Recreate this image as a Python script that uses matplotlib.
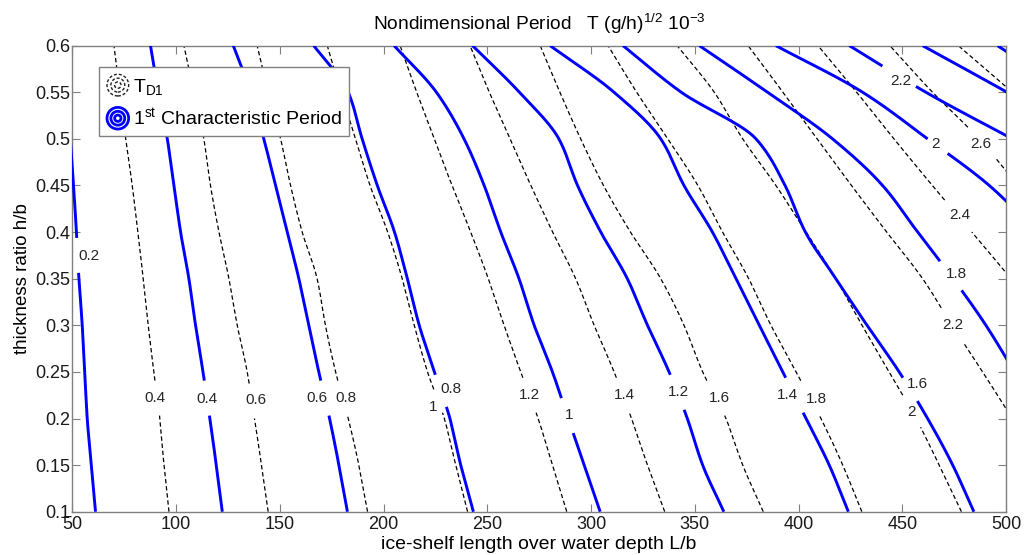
import numpy as np
import matplotlib.pyplot as plt
from matplotlib.legend_handler import HandlerBase
from matplotlib.patches import Circle

plt.rcParams['font.family'] = 'Liberation Sans'
plt.rcParams['mathtext.fontset'] = 'custom'
plt.rcParams['mathtext.rm'] = 'Liberation Sans'
plt.rcParams['mathtext.it'] = 'Liberation Sans:italic'

nan = np.nan

# thickness ratio h/b at which each contour is sampled
thickness = [0.1, 0.15, 0.2, 0.25, 0.3, 0.35, 0.4, 0.45, 0.5, 0.55, 0.6]

# T_D1 contours (dashed): L/b where each level crosses the thickness values above
td1_04 = [96.6, 94.2, 92.2, 89.3, 86.6, 84.2, 81.6, 78.9, 75.7, 72.9, 70.1]
td1_06 = [144.4, 141.2, 137.8, 134.3, 129.5, 125.5, 120.7, 116.6, 113.4, 108.6, 103.8]
td1_08 = [192.3, 188.1, 183.0, 176.9, 172.0, 168.0, 160.8, 155.2, 150.4, 144.5, 139.1]
td1_10 = [240.5, 234.8, 229.3, 221.2, 214.8, 209.0, 202.0, 193.5, 186.5, 179.5, 172.9]
td1_12 = [288.3, 281.4, 274.5, 266.1, 258.1, 250.5, 242.0, 233.0, 224.5, 216.0, 208.0]
td1_14 = [335.5, 327.2, 319.5, 311.1, 301.5, 292.6, 281.5, 271.0, 261.0, 251.0, 241.7]
td1_16 = [383.0, 373.1, 365.0, 353.8, 344.8, 333.6, 319.0, 306.0, 295.0, 285.0, 275.5]
td1_18 = [430.5, 421.3, 410.8, 398.8, 386.7, 376.0, 363.4, 351.5, 337.0, 322.0, 308.2]
td1_20 = [478.5, 467.8, 456.6, 443.6, 430.6, 418.0, 403.6, 389.1, 373.1, 359.4, 341.5]
td1_22 = [nan, 517.0, 503.0, 488.7, 474.0, 459.8, 442.5, 425.5, 409.0, 392.5, 375.7]
td1_24 = [nan, nan, nan, 540.0, 521.0, 502.4, 483.5, 464.5, 446.0, 428.0, 409.4]
td1_26 = [nan, nan, nan, nan, nan, nan, 527.0, 506.0, 487.0, 464.6, 444.0]
td1_28 = [nan, nan, nan, nan, nan, nan, nan, nan, 528.0, 503.0, 477.0]

td1_levels = [0.4, 0.6, 0.8, 1, 1.2, 1.4, 1.6, 1.8, 2, 2.2, 2.4, 2.6, 2.8]
td1_lines = [td1_04, td1_06, td1_08, td1_10, td1_12, td1_14, td1_16,
             td1_18, td1_20, td1_22, td1_24, td1_26, td1_28]
# where each level carries its inline label (nan = unlabelled)
td1_label_L = [90.0, 138.3, 182.0, 224.0, 270.2, 315.9, 361.8,
               408.4, 454.2, 474.3, 477.5, 487.9, nan]
td1_label_h = [0.222, 0.220, 0.222, 0.212, 0.225, 0.225, 0.222,
               0.221, 0.207, 0.300, 0.418, 0.495, nan]

# 1st characteristic period contours (solid blue)
per_02 = [61.2, 59.2, 57.2, 56.0, 54.8, 53.2, 52.0, 50.6, 49.0, 47.5, 46.0]
per_04 = [122.3, 119.4, 116.3, 113.0, 109.4, 106.2, 102.2, 99.0, 95.8, 91.5, 87.7]
per_06 = [182.6, 178.5, 174.0, 168.8, 164.0, 159.2, 153.6, 148.0, 142.3, 136.0, 127.6]
per_08 = [243.3, 237.2, 232.0, 224.5, 217.2, 211.5, 205.3, 197.0, 189.7, 183.0, 166.4]
per_10 = [304.4, 296.7, 289.0, 281.4, 272.6, 265.3, 256.5, 248.5, 238.8, 225.5, 205.1]
per_12 = [364.0, 353.8, 346.4, 337.6, 327.2, 317.5, 304.7, 293.5, 284.5, 265.5, 242.9]
per_14 = [424.0, 414.8, 403.6, 392.4, 381.1, 369.9, 358.5, 344.8, 333.6, 311.1, 280.3]
per_16 = [484.5, 474.3, 462.2, 448.5, 433.0, 418.0, 403.3, 393.5, 379.5, 343.5, 315.4]
per_18 = [nan, nan, 517.0, 504.0, 490.3, 474.5, 457.4, 440.5, 416.4, 385.1, 352.2]
per_20 = [nan, nan, nan, nan, nan, nan, 515.0, 491.9, 462.2, 430.9, 389.1]
per_22 = [nan, nan, nan, nan, nan, nan, nan, nan, 503.0, 461.4, 424.5]
per_24 = [nan, nan, nan, nan, nan, nan, nan, nan, 540.0, 500.5, 459.8]
per_26 = [nan, nan, nan, nan, nan, nan, nan, nan, nan, 530.0, 495.9]

per_levels = [0.2, 0.4, 0.6, 0.8, 1, 1.2, 1.4, 1.6, 1.8, 2, 2.2, 2.4, 2.6]
per_lines = [per_02, per_04, per_06, per_08, per_10, per_12, per_14,
             per_16, per_18, per_20, per_22, per_24, per_26]
per_label_L = [57.8, 115.0, 168.0, 232.4, 289.4, 342.0, 394.8,
               457.4, 475.9, 466.2, 449.4, nan, nan]
per_label_h = [0.374, 0.221, 0.222, 0.232, 0.204, 0.228, 0.225,
               0.237, 0.355, 0.494, 0.562, nan, nan]

x_ticks = [50, 100, 150, 200, 250, 300, 350, 400, 450, 500]
y_ticks = [0.1, 0.15, 0.2, 0.25, 0.3, 0.35, 0.4, 0.45, 0.5, 0.55, 0.6]
y_ticklabels = ['0.1', '0.15', '0.2', '0.25', '0.3', '0.35', '0.4',
                '0.45', '0.5', '0.55', '0.6']

LABEL_SIZE = 11
PX_PER_L = 934 / 450.0      # axes width in px over the L/b range
LABEL_HALF_H = 0.017        # half height of the hole cut around a label (h/b units)


class RingsHandler(HandlerBase):
    """Legend key drawn as three concentric rings, like MATLAB contour keys."""

    def __init__(self, color, linestyle, lw):
        super().__init__()
        self.color = color
        self.linestyle = linestyle
        self.lw = lw

    def create_artists(self, legend, orig_handle, xdescent, ydescent,
                       width, height, fontsize, trans):
        cx = width / 2 - xdescent
        cy = height / 2 - ydescent
        rings = []
        for r in (7.8, 5.0, 2.3):
            rings.append(Circle((cx, cy), r, fill=False, edgecolor=self.color,
                                lw=self.lw, linestyle=self.linestyle,
                                transform=trans))
        return rings


def smooth_curve(xs, hs, n=16):
    # monotone cubic (Fritsch-Carlson) through the crossings, L/b as a function of h/b
    xs = np.asarray(xs, float)
    hs = np.asarray(hs, float)
    ok = ~np.isnan(xs)
    xs, hs = xs[ok], hs[ok]
    d = np.diff(xs) / np.diff(hs)
    m = np.empty_like(xs)
    m[0], m[-1] = d[0], d[-1]
    for i in range(1, len(xs) - 1):
        if d[i - 1] * d[i] <= 0:
            m[i] = 0.0
        else:
            m[i] = 2.0 / (1.0 / d[i - 1] + 1.0 / d[i])
    out_x, out_h = [], []
    for i in range(len(xs) - 1):
        dh = hs[i + 1] - hs[i]
        t = np.linspace(0, 1, n, endpoint=False)
        h00 = 2 * t**3 - 3 * t**2 + 1
        h10 = t**3 - 2 * t**2 + t
        h01 = -2 * t**3 + 3 * t**2
        h11 = t**3 - t**2
        out_x.append(h00 * xs[i] + h10 * dh * m[i] + h01 * xs[i + 1] + h11 * dh * m[i + 1])
        out_h.append(hs[i] + t * dh)
    out_x.append([xs[-1]])
    out_h.append([hs[-1]])
    return np.concatenate(out_x), np.concatenate(out_h)


def label_text(v):
    return '%g' % v


def draw_contour(ax, xs, level, lab_L, lab_h, **style):
    cx, ch = smooth_curve(xs, thickness)
    txt = label_text(level)
    if not np.isnan(lab_h):
        # open a hole in the line where its label sits
        text_px = 8.5 * sum(c.isdigit() for c in txt) + 4.3 * txt.count('.')
        half_w = (text_px / 2 + 4) / PX_PER_L
        inside = (np.abs(cx - lab_L) < half_w) & (np.abs(ch - lab_h) < LABEL_HALF_H)
        cx = np.where(inside, np.nan, cx)
        ax.text(lab_L, lab_h, txt, fontsize=LABEL_SIZE, color='#262626',
                ha='center', va='center', zorder=5)
    ln, = ax.plot(cx, ch, **style)
    return ln


fig = plt.figure(figsize=(10.31, 5.55), dpi=100)
ax = fig.add_axes([0.0701, 0.078, 0.9057, 0.8397])

td1_style = dict(color='black', lw=0.9, linestyle=(0, (3.5, 2.2)), zorder=2)
per_style = dict(color='#0000ff', lw=2.1, solid_capstyle='butt', zorder=3)

td1_handle = None
for lev, xs, lL, lh in zip(td1_levels, td1_lines, td1_label_L, td1_label_h):
    ln = draw_contour(ax, xs, lev, lL, lh, **td1_style)
    td1_handle = td1_handle or ln

per_handle = None
for lev, xs, lL, lh in zip(per_levels, per_lines, per_label_L, per_label_h):
    ln = draw_contour(ax, xs, lev, lL, lh, **per_style)
    per_handle = per_handle or ln

ax.set_xlim(50, 500)
ax.set_ylim(0.1, 0.6)
ax.set_xticks(x_ticks)
ax.set_yticks(y_ticks)
ax.set_yticklabels(y_ticklabels)
ax.tick_params(direction='in', length=6, width=0.8, color='#808080',
               labelsize=13, labelcolor='#1a1a1a', top=True, right=True)
ax.tick_params(axis='y', pad=1.5)
ax.tick_params(axis='x', pad=3)
for sp in ax.spines.values():
    sp.set_color('#808080')
    sp.set_linewidth(1.0)

ax.set_xlabel('ice-shelf length over water depth L/b', fontsize=14, labelpad=2)
ax.set_ylabel('thickness ratio h/b', fontsize=13.5, labelpad=3)
ax.set_title(r'Nondimensional Period   $\mathregular{T\ (g/h)^{1/2}\ 10^{-3}}$',
             fontsize=13.8, pad=11)

leg = ax.legend([td1_handle, per_handle],
                [r'$\mathregular{T_{D1}}$', r'$\mathregular{1^{st}}$ Characteristic Period'],
                handler_map={td1_handle: RingsHandler('#222222', (0, (2.2, 1.4)), 1.0),
                             per_handle: RingsHandler('#0000ff', '-', 2.0)},
                loc='upper left', bbox_to_anchor=(0.029, 0.954), borderaxespad=0,
                fontsize=14, handlelength=1.3, handleheight=1.55,
                handletextpad=0.15, labelspacing=0.45, borderpad=0.3)
frame = leg.get_frame()
frame.set_edgecolor('#808080')
frame.set_linewidth(1.0)
frame.set_boxstyle('square', pad=0)
frame.set_alpha(1)
leg.set_zorder(10)

fig.savefig('out.png', dpi=100)
